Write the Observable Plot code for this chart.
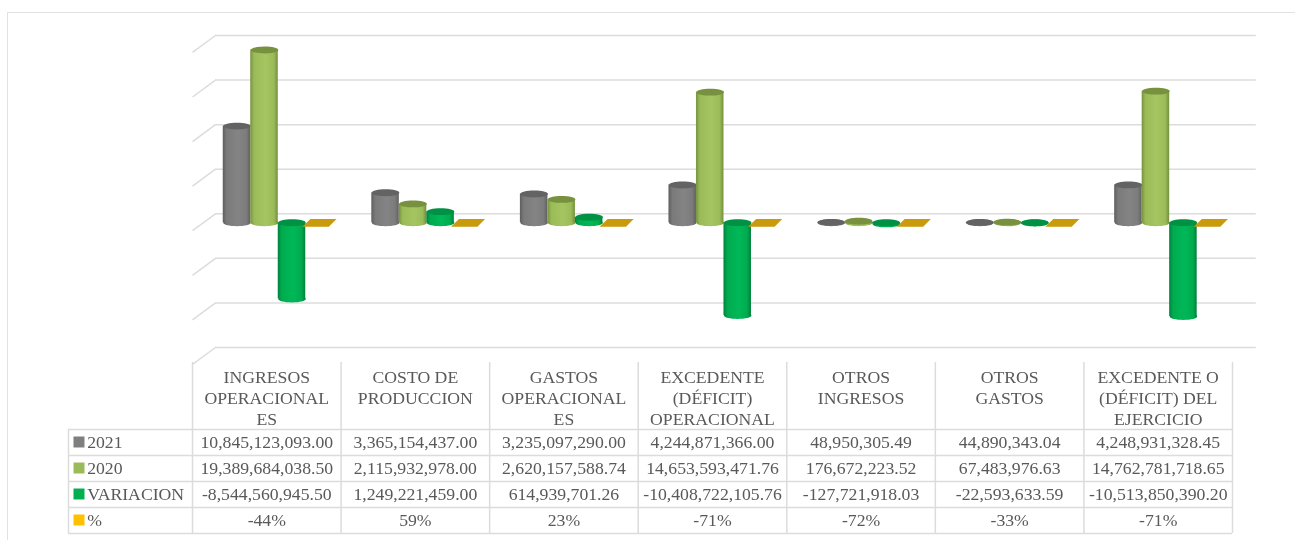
<!DOCTYPE html>
<html lang="es">
<head>
<meta charset="utf-8">
<script src="https://cdn.jsdelivr.net/npm/d3@7"></script>
<script src="https://cdn.jsdelivr.net/npm/@observablehq/plot@0.6"></script>
<style>
  html, body { margin: 0; padding: 0; background: #fff; overflow: hidden; }
  #frame { position: absolute; left: 7px; top: 12px; right: 0; bottom: -4px;
           border-left: 1.5px solid #e2e2e2; border-top: 1.5px solid #e2e2e2; }
  #chart { position: absolute; left: 0; top: 0; width: 1295px; }
  #chart svg { display: block; filter: blur(0.45px); }
</style>
</head>
<body>
<div id="frame"></div>
<div id="chart"></div>
<script>
// ---- data ----
const categories = ["INGRESOS\nOPERACIONAL\nES", "COSTO DE\nPRODUCCION", "GASTOS\nOPERACIONAL\nES",
  "EXCEDENTE\n(DÉFICIT)\nOPERACIONAL", "OTROS\nINGRESOS", "OTROS\nGASTOS", "EXCEDENTE O\n(DÉFICIT) DEL\nEJERCICIO"];
const seriesNames = ["2021", "2020", "VARIACION", "%"];
const values2021 = [10845123093.00, 3365154437.00, 3235097290.00, 4244871366.00, 48950305.49, 44890343.04, 4248931328.45];
const values2020 = [19389684038.50, 2115932978.00, 2620157588.74, 14653593471.76, 176672223.52, 67483976.63, 14762781718.65];
const valuesVariacion = [-8544560945.50, 1249221459.00, 614939701.26, -10408722105.76, -127721918.03, -22593633.59, -10513850390.20];
const valuesPct = [-0.44, 0.59, 0.23, -0.71, -0.72, -0.33, -0.71];
const gridValues = [20e9, 15e9, 10e9, 5e9, 0, -5e9, -10e9, -15e9];

// ---- styling / layout constants ----
const swatch = ["#7f7f7f", "#9bbb59", "#00b050", "#ffc000"];
const caps = ["#636363", "#78913f", "#009144"];
const gradStops = [
  ["#5e5e5e", "#7a7a7a", "#848484", "#7c7c7c", "#606060"],
  ["#76923f", "#9bbb59", "#a4c560", "#9bbb59", "#728e3c"],
  ["#00823e", "#00ab4e", "#00b858", "#00ab4e", "#007f3a"]
];
const gridColor = "#dcdcdc";
const textColor = "#595959";
const font = "Liberation Serif, Times New Roman, serif";
const step = 148.57;              // px per category
const barHalf = 13.75 / step;     // half a cylinder, in category units
const barOffset = 44.5 / step, barStep = 27.5 / step;
const depthX = 23 / step, depthY = 1.9e9, gridEnd = 7.16;
const rowKeyLeft = -124 / step;
const headerTop = -2.577;

const fmt = d3.formatLocale({decimal: ".", thousands: ",", grouping: [3], currency: ["", ""], minus: "-", percent: "%"});
const money = fmt.format(",.2f"), pct = fmt.format(".0%");

// symbols
const ellipse = {draw(c, size) {
  const rx = Math.sqrt(size / Math.PI), ry = rx * 0.25, k = 0.5523;
  c.moveTo(-rx, 0);
  c.bezierCurveTo(-rx, -k * ry, -k * rx, -ry, 0, -ry);
  c.bezierCurveTo(k * rx, -ry, rx, -k * ry, rx, 0);
  c.bezierCurveTo(rx, k * ry, k * rx, ry, 0, ry);
  c.bezierCurveTo(-k * rx, ry, -rx, k * ry, -rx, 0);
  c.closePath();
}};
const slab = {draw(c, size) {
  const r = Math.sqrt(size / Math.PI);
  c.moveTo(-0.66 * r, -0.28 * r);
  c.lineTo(1.24 * r, -0.28 * r);
  c.lineTo(0.68 * r, 0.28 * r);
  c.lineTo(-1.24 * r, 0.28 * r);
  c.closePath();
}};

const gradients = () => {
  const defs = d3.create("svg:defs");
  gradStops.forEach((stops, i) => {
    const g = defs.append("linearGradient").attr("id", "cyl" + i);
    stops.forEach((col, j) => g.append("stop").attr("offset", [0, 0.14, 0.55, 0.86, 1][j]).attr("stop-color", col));
  });
  return defs.node();
};

const xOf = (i, s) => i + barOffset + s * barStep;
const seriesValues = [values2021, values2020, valuesVariacion];

const cylinders = seriesValues.flatMap((vals, s) => {
  const rows = vals.map((v, i) => ({i, v}));
  const common = {x: d => xOf(d.i, s), dy: 9, symbol: ellipse, r: 13.75};
  return [
    Plot.dot(rows, {...common, y: d => Math.min(0, d.v), fill: `url(#cyl${s})`, stroke: "none"}),
    Plot.rect(rows, {x1: d => xOf(d.i, s) - barHalf, x2: d => xOf(d.i, s) + barHalf,
      y1: () => 0, y2: d => d.v, dy: 9, fill: `url(#cyl${s})`}),
    Plot.dot(rows, {...common, y: d => Math.max(0, d.v), fill: caps[s], stroke: "none"})
  ];
});

// ---- 3D chart ----
const chart = Plot.plot({
  width: 1295, height: 362,
  marginLeft: 192, marginRight: 63, marginTop: 0, marginBottom: 0,
  style: {background: "transparent", overflow: "visible"},
  x: {domain: [0, 7], axis: null},
  y: {domain: [-15e9, 20e9], range: [347, 35], axis: null},
  marks: [
    gradients,
    Plot.ruleY(gridValues, {x1: () => depthX, x2: () => gridEnd, stroke: gridColor, strokeWidth: 1.5}),
    Plot.link(gridValues, {x1: () => 0, x2: () => depthX, y1: v => v - depthY, y2: v => v, stroke: gridColor, strokeWidth: 1.5}),
    ...cylinders,
    Plot.dot(valuesPct, {x: (d, i) => xOf(i, 3), y: d => d, dy: 9, symbol: slab, r: 13.75, fill: "#c99a0c", stroke: "none"})
  ]
});

// ---- data table ----
const tableRows = [values2021, values2020, valuesVariacion, valuesPct];
const cellText = tableRows.flatMap((vals, r) => vals.map((v, c) => ({
  c, r, label: r === 3 ? pct(v) : money(v)
})));
const colEdges = d3.range(0, 8);
const rowEdges = d3.range(0, 5);

const table = Plot.plot({
  width: 1295, height: 178,
  marginLeft: 68, marginRight: 63, marginTop: 0, marginBottom: 7,
  style: {background: "transparent", overflow: "visible", fontFamily: font},
  x: {domain: [rowKeyLeft, 7], axis: null},
  y: {domain: [headerTop, 4], range: [0, 171], axis: null},
  marks: [
    Plot.ruleX(colEdges, {y1: () => headerTop, y2: () => 4, stroke: gridColor, strokeWidth: 1.5}),
    Plot.ruleX([rowKeyLeft], {y1: () => 0, y2: () => 4, stroke: gridColor, strokeWidth: 1.5}),
    Plot.ruleY(rowEdges, {x1: () => rowKeyLeft, x2: () => 7, stroke: gridColor, strokeWidth: 1.5}),
    Plot.text(categories, {x: (d, i) => i + 0.5, y: () => headerTop + 0.227, text: d => d, lineAnchor: "top",
      lineHeight: 1.19, fontSize: 17.7, fill: textColor, textAnchor: "middle"}),
    Plot.text(cellText, {x: d => d.c + 0.5, y: d => d.r + 0.5, text: "label", fontSize: 17.7, fill: textColor, textAnchor: "middle"}),
    Plot.dot(seriesNames, {x: () => -0.764, y: (d, i) => i + 0.5, dy: -0.5, symbol: "square", r: 6.2,
      fill: (d, i) => swatch[i], stroke: "none"}),
    Plot.text(seriesNames, {x: () => -0.709, y: (d, i) => i + 0.5, text: d => d, textAnchor: "start", fontSize: 17.7, fill: textColor})
  ],
  color: {type: "identity"}
});

const host = document.getElementById("chart");
host.append(chart, table);
</script>
</body>
</html>
